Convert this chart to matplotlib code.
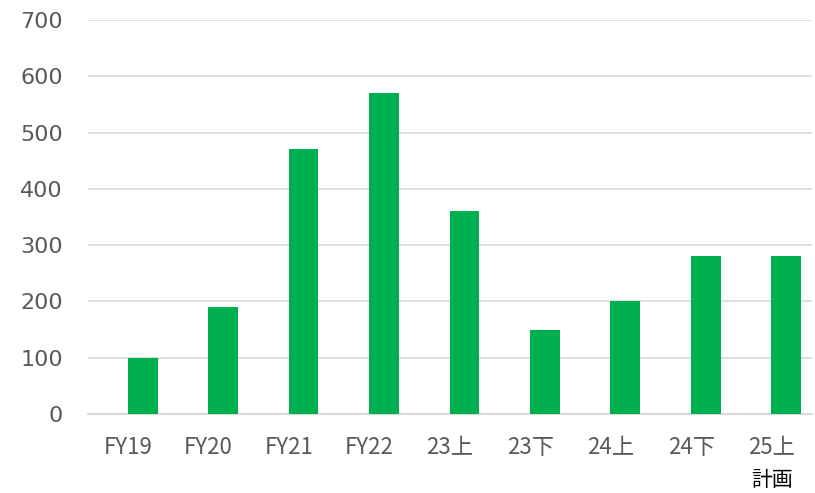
import matplotlib
matplotlib.use("Agg")
import matplotlib.pyplot as plt
import numpy as np

# data
categories = ["FY19", "FY20", "FY21", "FY22", "23上", "23下", "24上", "24下", "25上"]
values = [100, 190, 470, 570, 360, 150, 200, 280, 280]
yticks = [0, 100, 200, 300, 400, 500, 600, 700]

plt.rcParams['font.family'] = ['Noto Sans CJK JP', 'DejaVu Sans']

fig = plt.figure(figsize=(8.15, 4.93), dpi=100)
ax = fig.add_axes([88 / 815, 79 / 493, (812 - 88) / 815, (414 - 20) / 493])

x = np.arange(len(categories))
ax.bar(x + 0.18, values, width=0.37, color='#00B050', zorder=3)

ax.set_xlim(-0.5, len(categories) - 0.5)
ax.set_ylim(0, 700)
ax.set_yticks(yticks)
ax.set_yticklabels([str(v) for v in yticks], family='DejaVu Sans', fontsize=16, color='#595959')
ax.set_xticks(x)
ax.set_xticklabels(categories, fontsize=16, color='#595959')
ax.tick_params(axis='y', length=0, pad=18)
ax.tick_params(axis='x', length=0, pad=16)

ax.grid(axis='y', color='#D9D9D9', linewidth=1.2, zorder=0)
for s in ['top', 'right', 'left']:
    ax.spines[s].set_visible(False)
ax.spines['bottom'].set_color('#D9D9D9')
ax.spines['bottom'].set_linewidth(1.5)

# second line under the last label
ax.text(x[-1], -0.168, "計画", transform=ax.get_xaxis_transform(),
        ha='center', va='center', fontsize=15, color='#000000')

fig.savefig("out.png", dpi=100)
